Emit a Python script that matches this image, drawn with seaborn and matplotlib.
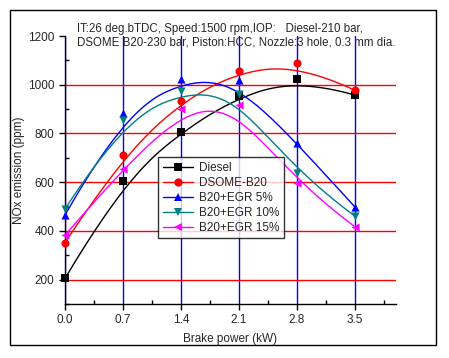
# NOx emission vs brake power
import numpy as np
import pandas as pd
import matplotlib
matplotlib.use("Agg")
import matplotlib.pyplot as plt
import seaborn as sns
from matplotlib.lines import Line2D
from matplotlib.patches import Rectangle
from matplotlib.ticker import MultipleLocator

# data
brake_power = [0.0, 0.7, 1.4, 2.1, 2.8, 3.5]
diesel = [205, 605, 807, 955, 1025, 958]
dsome_b20 = [352, 712, 933, 1057, 1088, 978]
egr_5 = [465, 883, 1022, 1020, 760, 500]
egr_10 = [490, 856, 975, 962, 636, 462]
egr_15 = [383, 655, 900, 918, 595, 418]

series_names = ["Diesel", "DSOME-B20", "B20+EGR 5%", "B20+EGR 10%", "B20+EGR 15%"]
series_values = [diesel, dsome_b20, egr_5, egr_10, egr_15]
colors = ["black", "red", "blue", "#008080", "magenta"]
markers = ["s", "o", "^", "v", "<"]


# clamped cubic B-spline using the data points as control points (Origin style)
def bspline(px, py, n=200, k=3):
    m = len(px)
    knots = np.concatenate([np.zeros(k), np.arange(m - k + 1), np.full(k, m - k)])
    t = np.linspace(0, m - k, n)
    t[-1] -= 1e-9
    # Cox-de Boor basis
    B = np.zeros((n, len(knots) - 1))
    for i in range(len(knots) - 1):
        B[:, i] = (t >= knots[i]) & (t < knots[i + 1])
    for d in range(1, k + 1):
        Bn = np.zeros((n, len(knots) - 1 - d))
        for i in range(len(knots) - 1 - d):
            a = knots[i + d] - knots[i]
            b = knots[i + d + 1] - knots[i + 1]
            left = (t - knots[i]) / a * B[:, i] if a > 0 else 0
            right = (knots[i + d + 1] - t) / b * B[:, i + 1] if b > 0 else 0
            Bn[:, i] = left + right
        B = Bn
    return B @ np.asarray(px, float), B @ np.asarray(py, float)


sns.set_style("white")
plt.rcParams["font.family"] = ["Liberation Sans", "DejaVu Sans"]

fig = plt.figure(figsize=(4.49, 3.58), dpi=100)
ax = fig.add_axes([0.1448, 0.1508, 0.737, 0.7486])

# grid: blue verticals, red horizontals
for xv in brake_power:
    ax.axvline(xv, color="blue", lw=1, zorder=1)
for yv in [200, 400, 600, 800, 1000]:
    ax.axhline(yv, color="red", lw=1, zorder=1)

handles = []
for name, vals, c, m in zip(series_names, series_values, colors, markers):
    sx, sy = bspline(brake_power, vals)
    sns.lineplot(x=sx, y=sy, sort=False, color=c, lw=1, ax=ax, zorder=2)
    sns.scatterplot(x=brake_power, y=vals, marker=m, color=c, s=34, ax=ax,
                    zorder=3, linewidth=0, clip_on=False)
    handles.append(Line2D([], [], color=c, lw=1, marker=m, markersize=6,
                          markeredgewidth=0, label=name))

ax.set_xlim(0, 4.0)
ax.set_ylim(100, 1200)
ax.set_xticks(brake_power)
ax.set_xticklabels(["0.0", "0.7", "1.4", "2.1", "2.8", "3.5"])
ax.set_yticks([200, 400, 600, 800, 1000, 1200])
ax.xaxis.set_minor_locator(MultipleLocator(0.35))
ax.yaxis.set_minor_locator(MultipleLocator(100))
ax.tick_params(which="major", direction="out", length=4, width=1,
               labelsize=8.5, bottom=True, left=True, color="black")
ax.tick_params(which="minor", direction="in", length=3, width=1,
               bottom=True, left=True, color="black")

for side in ["top", "right"]:
    ax.spines[side].set_visible(False)
for side in ["left", "bottom"]:
    ax.spines[side].set_color("black")
    ax.spines[side].set_linewidth(1)

ax.set_xlabel("Brake power (kW)", fontsize=8.5, labelpad=5)
ax.set_ylabel("NOx emission (ppm)", fontsize=8.5, labelpad=2)

ax.text(0.036, 1.048, "IT:26 deg.bTDC, Speed:1500 rpm,IOP:   Diesel-210 bar,\n"
        "DSOME B20-230 bar, Piston:HCC, Nozzle:3 hole, 0.3 mm dia.",
        transform=ax.transAxes, fontsize=8.3, va="top", ha="left",
        linespacing=1.2)

leg = ax.legend(handles=handles, loc="upper left", bbox_to_anchor=(0.281, 0.548),
                borderaxespad=0, fontsize=8.5, frameon=True, fancybox=False,
                borderpad=0.4, labelspacing=0.25, handlelength=2.6,
                handletextpad=0.5)
leg.get_frame().set_edgecolor("black")
leg.get_frame().set_linewidth(1)

# outer frame around the whole figure
fig.patches.append(Rectangle((10 / 449, 13 / 358), 426 / 449, 335 / 358,
                             transform=fig.transFigure, fill=False,
                             edgecolor="black", lw=1))

fig.savefig("out.png", dpi=100)
